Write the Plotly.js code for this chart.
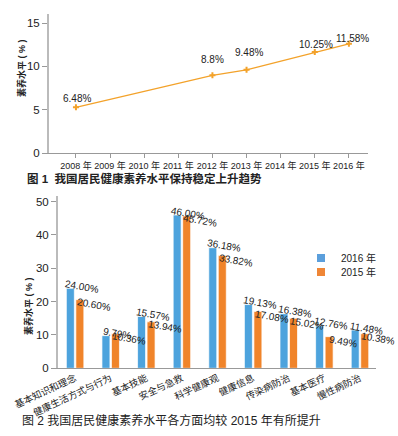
<!DOCTYPE html>
<html><head><meta charset="utf-8">
<script src="https://cdn.plot.ly/plotly-3.0.1.min.js"></script>
<style>html,body{margin:0;padding:0;background:#fff}#chart{width:398px;height:436px}</style>
</head><body><div id="chart"></div>
<script>
// ---- Figure 1 data ----
const years = ['2008 年','2009 年','2010 年','2011 年','2012 年','2013 年','2014 年','2015 年','2016 年'];
const trendYears = ['2008 年','2012 年','2013 年','2015 年','2016 年'];
const trendValues = [5.27, 8.96, 9.6, 11.65, 12.6];
const trendLabels = ['6.48%','8.8%','9.48%','10.25%','11.58%'];

// ---- Figure 2 data ----
const aspects = ['基本知识和理念','健康生活方式与行为','基本技能','安全与急救','科学健康观','健康信息','传染病防治','基本医疗','慢性病防治'];
const values2016 = [24.00, 9.79, 15.57, 46.00, 36.18, 19.13, 16.38, 12.76, 11.48];
const values2015 = [20.60, 10.36, 13.94, 45.72, 33.82, 17.08, 15.02, 9.49, 10.38];
const seriesNames = ['2016 年','2015 年'];

const FONT = 'Liberation Sans, Arial, "Noto Sans CJK SC", sans-serif';
const BLUE = '#4da3dd', ORANGE = '#f0842a', LINE = '#f3a22a';
const LEG_BLUE = '#5b9fdc', LEG_ORANGE = '#ef8636';

const traces = [
  {type:'scatter', mode:'lines+markers', x:trendYears, y:trendValues, xaxis:'x', yaxis:'y',
   line:{color:LINE, width:1.2}, marker:{symbol:'cross', size:5, color:LINE}, showlegend:false, hoverinfo:'skip'},
  {type:'bar', name:seriesNames[0], x:aspects, y:values2016, xaxis:'x2', yaxis:'y2', showlegend:false,
   marker:{color:BLUE, line:{color:'rgba(255,255,255,0.7)', width:1}}},
  {type:'bar', name:seriesNames[1], x:aspects, y:values2015, xaxis:'x2', yaxis:'y2', showlegend:false,
   marker:{color:ORANGE, line:{color:'rgba(255,255,255,0.7)', width:1}}},
  // legend entries (square keys)
  {type:'scatter', mode:'markers', name:seriesNames[0], x:[null], y:[null], xaxis:'x2', yaxis:'y2', legend:'legend',
   marker:{symbol:'square', size:8, color:LEG_BLUE}},
  {type:'scatter', mode:'markers', name:seriesNames[1], x:[null], y:[null], xaxis:'x2', yaxis:'y2', legend:'legend2',
   marker:{symbol:'square', size:8, color:LEG_ORANGE}}
];

const labelLift = [9, 16, 17, 8, 5];
const labelNudge = [1, 0, 2, 1, 4];
const annotations = [];
const LBL = {size:10, color:'#222', family:FONT};
trendYears.forEach((yr,i)=>{
  annotations.push({xref:'x', yref:'y', x:yr, y:trendValues[i], text:trendLabels[i], showarrow:false,
    yshift:labelLift[i], xshift:labelNudge[i], font:LBL});
});
const barOff = 0.155;
aspects.forEach((a,i)=>{
  annotations.push({xref:'x2', yref:'y2', x:i-barOff, y:values2016[i], text:values2016[i].toFixed(2)+'%',
    showarrow:false, textangle:10, xshift:12, yshift:2, font:LBL});
  annotations.push({xref:'x2', yref:'y2', x:i+barOff, y:values2015[i], text:values2015[i].toFixed(2)+'%',
    showarrow:false, textangle:10, xshift:13, yshift:-5, font:LBL});
});
// titles
annotations.push({xref:'paper', yref:'paper', x:25/398, y:1-178/436, xanchor:'left', yanchor:'middle',
  text:'<b>图 1  我国居民健康素养水平保持稳定上升趋势</b>', showarrow:false, font:{size:11.5, color:'#222', family:FONT}});
annotations.push({xref:'paper', yref:'paper', x:20/398, y:1-420/436, xanchor:'left', yanchor:'middle',
  text:'图 2 我国居民健康素养水平各方面均较 2015 年有所提升', showarrow:false, font:{size:12, color:'#222', family:FONT}});
// y-axis titles
annotations.push({xref:'paper', yref:'paper', x:22/398, y:1-68/436, xanchor:'center', yanchor:'middle', textangle:-90,
  text:'<b>素养水平 ( % )</b>', showarrow:false, font:{size:9, color:'#222', family:FONT}});
annotations.push({xref:'paper', yref:'paper', x:28/398, y:1-306/436, xanchor:'center', yanchor:'middle', textangle:-90,
  text:'<b>素养水平 ( % )</b>', showarrow:false, font:{size:9, color:'#222', family:FONT}});

const legendBase = {xanchor:'left', yanchor:'middle', font:{size:10, color:'#222', family:FONT},
  bgcolor:'rgba(0,0,0,0)', itemwidth:30, borderwidth:0};
const layout = {
  width:398, height:436, margin:{l:0,r:0,t:0,b:0}, paper_bgcolor:'#fff', plot_bgcolor:'#fff',
  font:{family:FONT, color:'#222'},
  barmode:'group', bargap:0.466, bargroupgap:0.16,
  showlegend:true,
  legend:Object.assign({x:301/398, y:1-258/436}, legendBase),
  legend2:Object.assign({x:301/398, y:1-272/436}, legendBase),
  xaxis:{domain:[49/398, 368/398], anchor:'y', type:'category', categoryorder:'array', categoryarray:years,
    tickvals:years, range:[-0.79, 8.56], showline:true, linecolor:'#999', linewidth:1, ticks:'outside', ticklen:4,
    tickcolor:'#999', showgrid:false, zeroline:false, tickfont:{size:9, color:'#222'}, fixedrange:true},
  yaxis:{domain:[1-153/436, 1-14/436], anchor:'x', range:[0,16.04], tickvals:[0,5,10,15], showline:true,
    linecolor:'#bbb', linewidth:2, ticks:'outside', ticklen:5, tickcolor:'#999', showgrid:false, zeroline:false,
    tickfont:{size:11.5, color:'#222'}, fixedrange:true},
  xaxis2:{domain:[58/398, 376/398], anchor:'y2', type:'category', range:[-0.48, 8.45], showline:true,
    linecolor:'#999', linewidth:1, ticks:'', showgrid:false, zeroline:false, tickangle:-25,
    tickfont:{size:9.5, color:'#222'}, fixedrange:true},
  yaxis2:{domain:[1-368.3/436, 1-196/436], anchor:'x2', range:[0,51.7], tickvals:[0,10,20,30,40,50], showline:true,
    linecolor:'#bbb', linewidth:2, ticks:'outside', ticklen:5, tickcolor:'#999', showgrid:false, zeroline:false,
    tickfont:{size:11.5, color:'#222'}, fixedrange:true},
  annotations:annotations
};
Plotly.newPlot('chart', traces, layout, {displayModeBar:false, staticPlot:true});
</script></body></html>
